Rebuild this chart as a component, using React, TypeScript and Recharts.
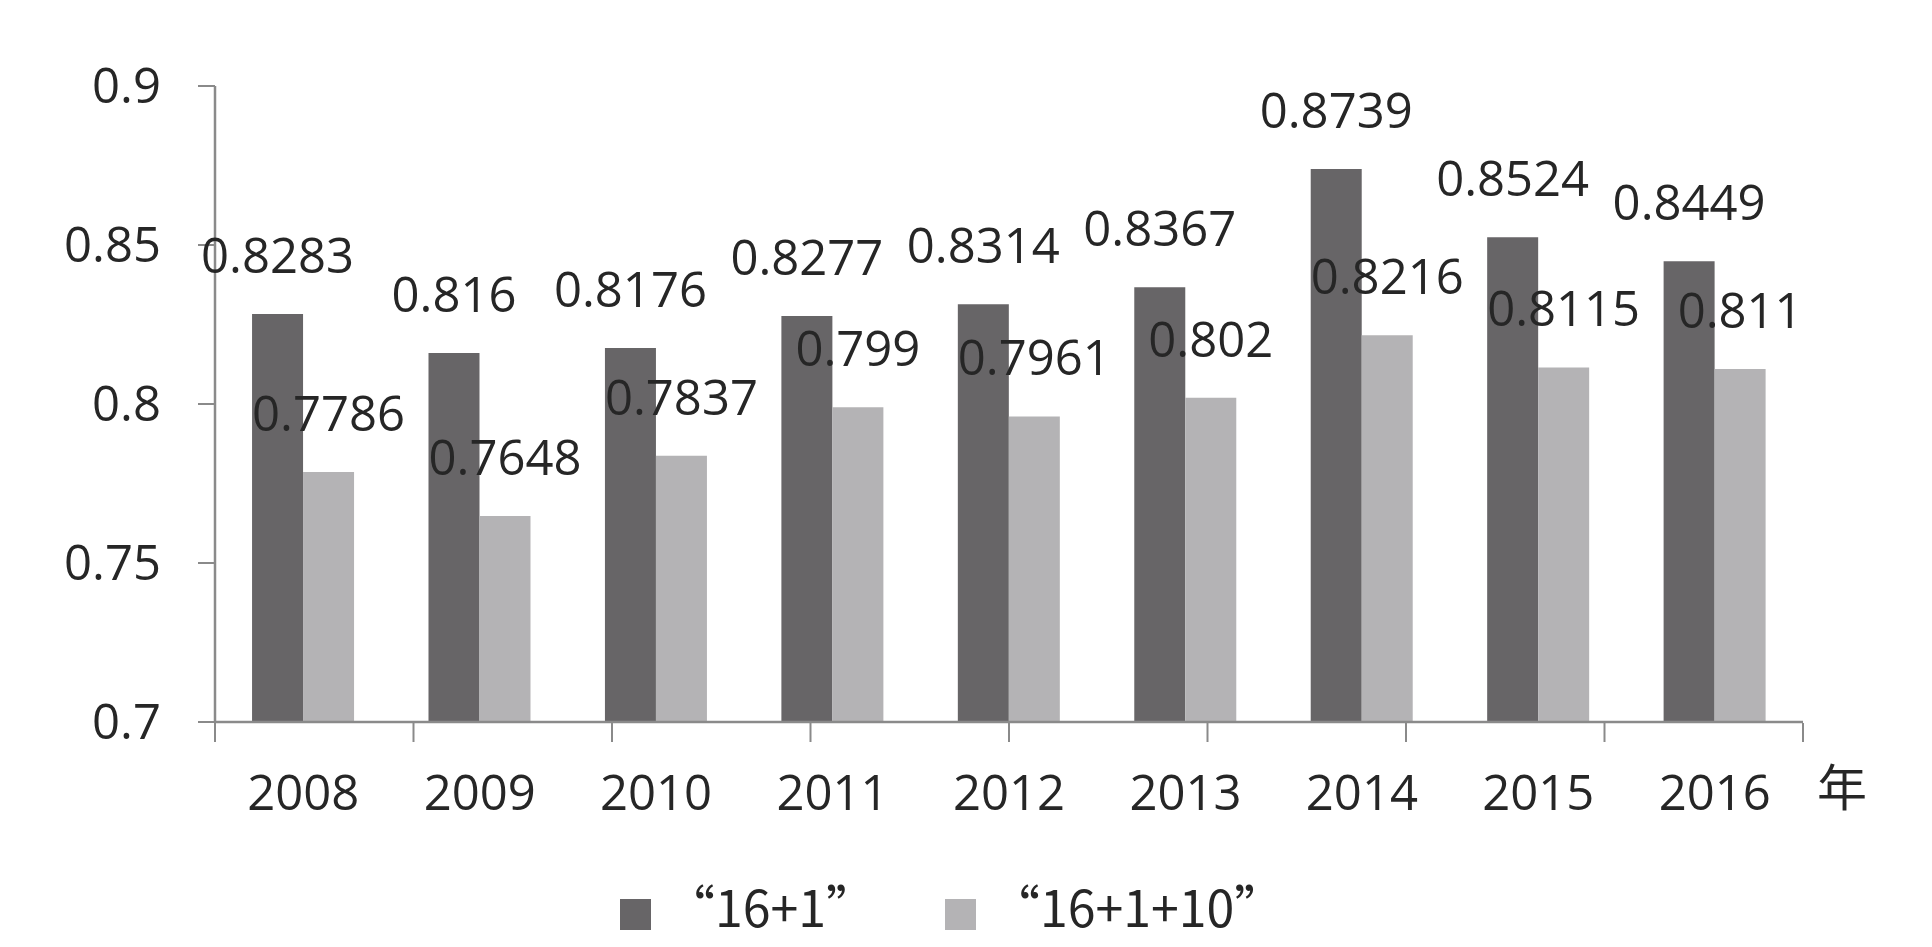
import React from 'react';
import { BarChart, Bar, XAxis, YAxis, Legend, LabelList } from 'recharts';

const years = ['2008', '2009', '2010', '2011', '2012', '2013', '2014', '2015', '2016'];
const series161 = [0.8283, 0.816, 0.8176, 0.8277, 0.8314, 0.8367, 0.8739, 0.8524, 0.8449];
const series16110 = [0.7786, 0.7648, 0.7837, 0.799, 0.7961, 0.802, 0.8216, 0.8115, 0.811];
const yTicks = [0.7, 0.75, 0.8, 0.85, 0.9];
const boundaryTicks = [0, 1, 2, 3, 4, 5, 6, 7, 8, 9];
const seriesNames = ['“16+1”', '“16+1+10”'];
const axisUnit = '年';

const data = years.map((y, i) => ({ year: y, a: series161[i], b: series16110[i] }));

const TEXT = '#262626';
const AXIS = '#8a8a8a';
const FONT = '"Open Sans", "Noto Sans CJK SC", sans-serif';
const CJK = '"Noto Sans CJK SC", "Open Sans", sans-serif';

const renderLegend = (props: any) => {
  const payload = [...(props.payload || [])].sort(
    (p: any, q: any) => seriesNames.indexOf(p.value) - seriesNames.indexOf(q.value)
  );
  return (
    <div style={{ display: 'flex', alignItems: 'center' }}>
      {payload.map((e: any, i: number) => (
        <div key={i} style={{ display: 'flex', alignItems: 'center', width: i === 0 ? 325 : 'auto', flexShrink: 0 }}>
          <span style={{ width: 31, height: 31, flexShrink: 0, background: e.color, display: 'inline-block', marginTop: 18 }} />
          <span style={{ marginLeft: 14, fontFamily: CJK, fontSize: 50, color: TEXT, lineHeight: 1, whiteSpace: 'nowrap' }}>
            {e.value}
          </span>
        </div>
      ))}
    </div>
  );
};

const BoundaryTick = () => <g />;

export default function App() {
  return (
    <div style={{ position: 'absolute', left: 0, top: 0, width: 1932, height: 947, background: '#fff', fontFamily: FONT }}>
      <BarChart
        width={1932}
        height={947}
        data={data}
        margin={{ top: 86, right: 129, left: 0, bottom: 93 }}
        barCategoryGap="21%"
        barGap={0}
      >
        <XAxis
          dataKey="year"
          height={1}
          tickSize={19}
          tickMargin={34}
          axisLine={{ stroke: AXIS, strokeWidth: 2.5 }}
          tickLine={false}
          tick={{ fill: TEXT, fontSize: 49, fontFamily: FONT }}
          interval={0}
        />
        <XAxis
          xAxisId="bounds"
          type="number"
          domain={[0, 9]}
          allowDataOverflow
          ticks={boundaryTicks}
          interval={0}
          height={131}
          tickSize={19}
          tick={<BoundaryTick />}
          axisLine={false}
          tickLine={{ stroke: AXIS, strokeWidth: 2 }}
          label={{ value: axisUnit, position: 'right', offset: 14, fill: TEXT, fontSize: 50, fontFamily: CJK }}
        />
        <YAxis
          width={215}
          domain={[0.7, 0.9]}
          ticks={yTicks}
          tickSize={17}
          tickMargin={37}
          axisLine={{ stroke: AXIS, strokeWidth: 2.5 }}
          tickLine={{ stroke: AXIS, strokeWidth: 2 }}
          tick={{ fill: TEXT, fontSize: 49, fontFamily: FONT }}
          allowDataOverflow
        />
        <Legend
          verticalAlign="middle"
          layout="horizontal"
          align="center"
          content={renderLegend}
          wrapperStyle={{ top: 880, left: 620, width: 'auto' }}
        />
        <Bar dataKey="a" name={seriesNames[0]} fill="#676567" isAnimationActive={false}>
          <LabelList dataKey="a" position="top" offset={41} fill={TEXT} fontSize={49} fontFamily={FONT} />
        </Bar>
        <Bar dataKey="b" name={seriesNames[1]} fill="#b4b3b5" isAnimationActive={false}>
          <LabelList dataKey="b" position="top" offset={41} fill={TEXT} fontSize={49} fontFamily={FONT} />
        </Bar>
      </BarChart>
    </div>
  );
}
